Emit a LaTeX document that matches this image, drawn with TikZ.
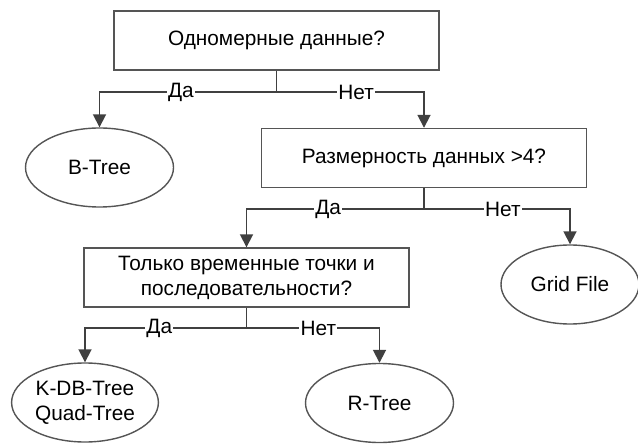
\documentclass[tikz,border=0pt]{standalone}
\usepackage{fontspec}
\setmainfont{Liberation Sans}
\usetikzlibrary{shapes}
\usetikzlibrary{arrows.meta}
\definecolor{trait}{RGB}{64,64,64}
\definecolor{bord}{RGB}{85,85,85}
\tikzstyle{question}=[
        rectangle,
        draw=bord,
        line width=0.7pt,
        minimum width=162.5pt,
        minimum height=29.5pt,
        align=center,
        inner sep=2pt
]
\tikzstyle{feuille}=[ellipse,draw=bord,line width=0.7pt,minimum width=74pt,minimum height=39.5pt,align=center,inner sep=1pt]
\tikzstyle{lien}=[draw=trait,line width=0.9pt]
\tikzstyle{suite}=[lien,-{Triangle[length=6.5pt,width=6.5pt]}]
\tikzstyle{rep}=[fill=white,inner sep=0.6pt,pos=0.27]

\begin{document}
\begin{tikzpicture}[x=0.5pt,y=-0.5pt,font=\fontsize{10.4pt}{12.5pt}\selectfont]
\useasboundingbox (0,0) rectangle (638,444);
\node[question] (q1) at (276.5,40.5) {Одномерные данные?};
\node[feuille] (btree) at (99.5,167.5) {B-Tree};
\node[question] (q2) at (424,158) {Размерность данных >4?};
\node[question] (q3) at (246.5,277.5) {Только временные точки и\\последовательности?};
\node[feuille,minimum width=69pt] (grid) at (570,284.5) {Grid File};
\node[feuille,minimum width=73pt] (kdb) at (85,402.5) {K-DB-Tree\\Quad-Tree};
\node[feuille] (rtree) at (379.5,403) {R-Tree};
\coordinate (j1) at (276.5,92);
\coordinate (j2) at (424,209);
\coordinate (j3) at (246.5,328);
%Placementdesflèches
\draw[lien] (q1) -- (j1);
\draw[suite] (j1) -| node[rep]{Да} (btree);
\draw[suite] (j1) -| node[rep]{Нет} (q2);
\draw[lien] (q2) -- (j2);
\draw[suite] (j2) -| node[rep]{Да} (q3);
\draw[suite] (j2) -| node[rep]{Нет} (grid);
\draw[lien] (q3) -- (j3);
\draw[suite] (j3) -| node[rep]{Да} (kdb);
\draw[suite] (j3) -| node[rep]{Нет} (rtree);
\end{tikzpicture}
\end{document}
